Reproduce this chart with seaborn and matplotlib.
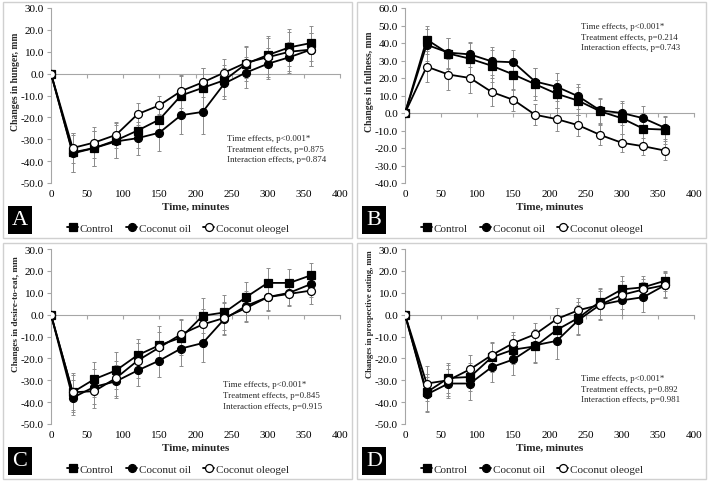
import matplotlib
matplotlib.use("Agg")
import matplotlib.pyplot as plt
import matplotlib.patches as mpatches
from matplotlib.ticker import FormatStrFormatter
import numpy as np
import pandas as pd
import seaborn as sns

# time points (minutes)
time = [0, 30, 60, 90, 120, 150, 180, 210, 240, 270, 300, 330, 360]
groups = ["Control", "Coconut oil", "Coconut oleogel"]

# A - hunger
hunger_control = [0, -36, -34, -30.5, -26, -21, -10, -6.5, -3, 4.5, 8.5, 12, 14]
hunger_oil = [0, -36.5, -34, -31, -29.5, -27, -19, -17.5, -4.5, 0.5, 4.5, 7.5, 11]
hunger_oleogel = [0, -34, -31.5, -28, -18.5, -14.5, -8, -4, 0.5, 5, 7.5, 10, 11]
hunger_err_control = [0, 9, 8, 8, 8, 8, 9, 9, 7, 8, 8.5, 8.5, 8]
hunger_err_oil = [0, 8.5, 8, 7.5, 7.5, 8.5, 8.5, 10, 7, 7, 7, 7, 7.5]
hunger_err_oleogel = [0, 7, 7, 6, 5, 4.5, 7.5, 6.5, 6, 7, 9, 9, 7.5]

# B - fullness
full_control = [0, 42, 34, 31, 27, 22, 16.5, 11, 7, 1, -3, -9, -9.5]
full_oil = [0, 39, 34.5, 33.5, 29.5, 29, 18, 15, 9.5, 1.5, 0, -3, -8.5]
full_oleogel = [0, 26.5, 22, 20, 12, 7.5, -1, -3.5, -7, -12.5, -17, -19, -21.5]
full_err_control = [0, 8, 9, 9, 9, 9, 9, 8, 8, 7, 9, 9, 8]
full_err_oil = [0, 9, 8.5, 7, 8, 7, 8, 8, 7, 7, 7, 7, 6.5]
full_err_oleogel = [0, 9, 9, 8.5, 8, 6.5, 6, 6.5, 6, 5.5, 5, 5, 5.5]

# C - desire to eat
desire_control = [0, -35.5, -29.5, -25.5, -18.5, -14, -10.5, -0.5, 1, 8, 14.5, 14.5, 18]
desire_oil = [0, -38, -33, -30.5, -25.5, -21, -15.5, -13, -2, 4, 8, 10, 14]
desire_oleogel = [0, -35.5, -35, -29, -21, -15, -9, -4.5, -1.5, 3, 8, 9.5, 11]
desire_err_control = [0, 9, 8, 8.5, 7.5, 9, 8, 8, 8, 7, 7, 6.5, 5.5]
desire_err_oil = [0, 8, 8, 7.5, 7, 7.5, 8, 8.5, 7.5, 7, 6.5, 5.5, 6]
desire_err_oleogel = [0, 8, 7.5, 8, 8, 7, 7, 7, 7.5, 6.5, 6, 5.5, 6]

# D - prospective eating
prosp_control = [0, -35.5, -29, -28.5, -19.5, -16, -14.5, -7, -1.5, 6, 11.5, 12.5, 15.5]
prosp_oil = [0, -36.5, -31.5, -31.5, -24, -20.5, -14, -12, -2.5, 4.5, 6.5, 8, 13.5]
prosp_oleogel = [0, -31.5, -30, -25, -18.5, -13, -9, -2, 2, 4.5, 9, 11.5, 13.5]
prosp_err_control = [0, 8.5, 7, 6.5, 6.5, 6.5, 7.5, 6.5, 7.5, 6, 6, 5, 4.5]
prosp_err_oil = [0, 8, 6.5, 7.5, 7, 7, 7.5, 8.5, 7, 7, 6.5, 7, 6]
prosp_err_oleogel = [0, 8, 7, 6.5, 6, 5, 5, 5, 5.5, 6.5, 6.5, 5, 5.5]

panels = [
    ("A", "Changes in hunger, mm", (-50, 30),
     [hunger_control, hunger_oil, hunger_oleogel],
     [hunger_err_control, hunger_err_oil, hunger_err_oleogel],
     ["Time effects, p<0.001*", "Treatment effects, p=0.875", "Interaction effects, p=0.874"]),
    ("B", "Changes in fullness, mm", (-40, 60),
     [full_control, full_oil, full_oleogel],
     [full_err_control, full_err_oil, full_err_oleogel],
     ["Time effects, p<0.001*", "Treatment effects, p=0.214", "Interaction effects, p=0.743"]),
    ("C", "Changes in desire-to-eat, mm", (-50, 30),
     [desire_control, desire_oil, desire_oleogel],
     [desire_err_control, desire_err_oil, desire_err_oleogel],
     ["Time effects, p<0.001*", "Treatment effects, p=0.845", "Interaction effects, p=0.915"]),
    ("D", "Changes in prospective eating, mm", (-50, 30),
     [prosp_control, prosp_oil, prosp_oleogel],
     [prosp_err_control, prosp_err_oil, prosp_err_oleogel],
     ["Time effects, p<0.001*", "Treatment effects, p=0.892", "Interaction effects, p=0.981"]),
]

# layout tweaks per panel: stats text position (axes fraction), y label size / height
text_pos = {"A": (0.609, 0.28), "B": (0.609, 0.92), "C": (0.595, 0.25), "D": (0.609, 0.286)}
ylab_size = {"A": 6.9, "B": 6.9, "C": 6.7, "D": 6.2}
ylab_y = {"A": 0.583, "B": 0.583, "C": 0.634, "D": 0.634}

markers = {"Control": "s", "Coconut oil": "o", "Coconut oleogel": "o"}
faces = {"Control": "black", "Coconut oil": "black", "Coconut oleogel": "white"}

sns.set_theme(style="white")
plt.rcParams["font.family"] = ["Liberation Serif", "DejaVu Serif"]
plt.rcParams["axes.unicode_minus"] = False

W, H = 710, 485
fig = plt.figure(figsize=(W / 100, H / 100), dpi=100)

# panel boxes (pixels): left, top of box
box_origin = {"A": (3, 3), "B": (357, 3), "C": (3, 244), "D": (357, 244)}
box_w, box_h = 349, 236
grey = "#a6a6a6"

for letter, ylab, ylim, series, errs, stats in panels:
    bx, by = box_origin[letter]
    fig.patches.append(mpatches.Rectangle((bx / W, 1 - (by + box_h) / H), box_w / W, box_h / H,
                                          transform=fig.transFigure, fill=False,
                                          edgecolor="#d0d0d0", linewidth=1.0))
    # axes area in pixels
    ax_left = bx + 48
    ax_top = by + 6
    ax_w, ax_h = 289, 175
    ax = fig.add_axes([ax_left / W, 1 - (ax_top + ax_h) / H, ax_w / W, ax_h / H])

    handles = []
    for name, vals, err in zip(groups, series, errs):
        ax.errorbar(time, vals, yerr=err, fmt="none", ecolor="#8c8c8c",
                    elinewidth=0.7, capsize=1.5, capthick=0.7, zorder=1)
    for name, vals in zip(groups, series):
        df = pd.DataFrame({"time": time, "value": vals})
        sns.lineplot(data=df, x="time", y="value", ax=ax, color="black", linewidth=1.3,
                     marker=markers[name], markersize=5.4 if name == "Control" else 5.7,
                     markerfacecolor=faces[name], markeredgecolor="black",
                     markeredgewidth=0.9, errorbar=None, zorder=3)
        handles.append(ax.lines[-1])

    ax.set_xlim(0, 400)
    ax.set_ylim(*ylim)
    ax.set_yticks(np.arange(ylim[0], ylim[1] + 1, 10))
    ax.yaxis.set_major_formatter(FormatStrFormatter("%.1f"))
    ax.set_xticks(np.arange(0, 401, 50))

    for s in ["top", "right", "bottom"]:
        ax.spines[s].set_visible(False)
    ax.spines["left"].set_color(grey)
    ax.spines["left"].set_linewidth(0.8)
    ax.tick_params(axis="y", which="major", left=True, length=3, width=0.8, color=grey,
                   labelsize=8, pad=2, labelcolor="black")
    ax.tick_params(axis="x", which="major", bottom=True, length=0, labelsize=8, pad=4,
                   labelcolor="black")

    # zero line with ticks (like the category axis crossing at 0)
    sec = ax.secondary_xaxis(0, transform=ax.transData)
    sec.set_xticks(np.arange(0, 401, 50))
    sec.set_xticklabels([])
    sec.spines["bottom"].set_color(grey)
    sec.spines["bottom"].set_linewidth(0.8)
    sec.tick_params(axis="x", length=3, width=0.8, color=grey, direction="out")

    ax.set_ylabel(ylab, fontsize=ylab_size[letter], fontweight="bold")
    ax.yaxis.set_label_coords(-0.107, ylab_y[letter])
    ax.set_xlabel("Time, minutes", fontsize=8, fontweight="bold", labelpad=3)

    tx, ty = text_pos[letter]
    ax.text(tx, ty, "\n".join(stats), transform=ax.transAxes, fontsize=6.4,
            va="top", ha="left", linespacing=1.45)

    ax.legend(handles, groups, loc="center", bbox_to_anchor=(0.44, -0.255), ncol=3,
              frameon=False, fontsize=8, handlelength=1.0, handletextpad=0.15,
              columnspacing=1.1, borderaxespad=0)

    # panel letter
    lx, ly = bx + 5, by + 204
    fig.patches.append(mpatches.Rectangle((lx / W, 1 - (ly + 28) / H), 24 / W, 28 / H,
                                          transform=fig.transFigure, facecolor="black",
                                          edgecolor="none"))
    fig.text((lx + 12) / W, 1 - (ly + 14) / H, letter, color="white", fontsize=16,
             ha="center", va="center")

fig.savefig("out.png", dpi=100, facecolor="white")
